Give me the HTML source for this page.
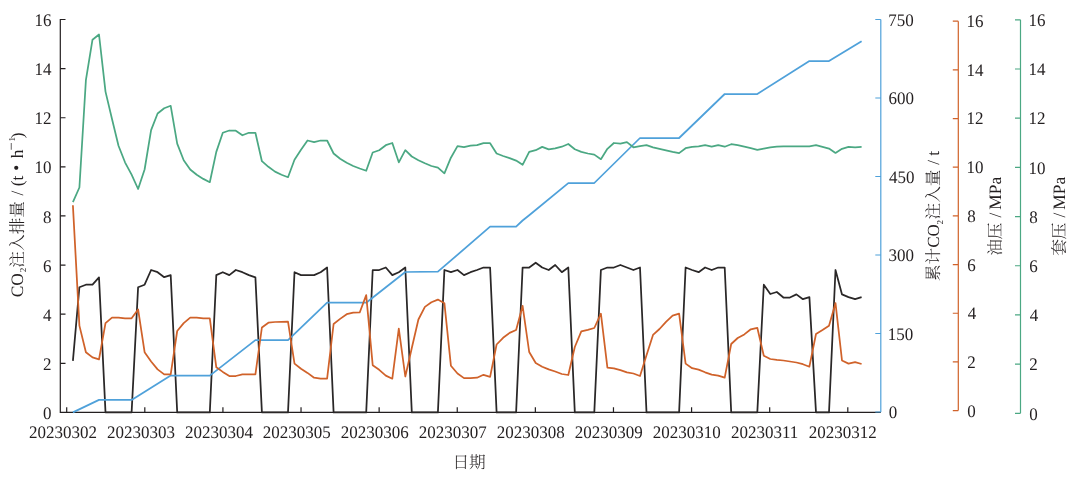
<!DOCTYPE html>
<html><head><meta charset="utf-8"><style>
html,body{margin:0;padding:0;background:#fff;width:1080px;height:482px;overflow:hidden}
svg{display:block;will-change:transform} text{text-rendering:geometricPrecision}
</style></head><body>
<svg width="1080" height="482" viewBox="0 0 1080 482">
<rect width="1080" height="482" fill="#fff"/>
<path d="M65.5,19.5 H60.3 V412.4 H880.8" fill="none" stroke="#231f20" stroke-width="1.2"/>
<path d="M60.3,363.29 h5.2 M60.3,314.17 h5.2 M60.3,265.06 h5.2 M60.3,215.95 h5.2 M60.3,166.84 h5.2 M60.3,117.73 h5.2 M60.3,68.61 h5.2" stroke="#231f20" stroke-width="1.2"/>
<path d="M66.70,412.4 v-5.2 M144.81,412.4 v-5.2 M222.92,412.4 v-5.2 M301.03,412.4 v-5.2 M379.14,412.4 v-5.2 M457.25,412.4 v-5.2 M535.36,412.4 v-5.2 M613.47,412.4 v-5.2 M691.58,412.4 v-5.2 M769.69,412.4 v-5.2 M847.80,412.4 v-5.2" stroke="#231f20" stroke-width="1.2"/>
<path d="M880.8,19.5 V412.0 M875.3,412.00 H880.8 M875.3,333.50 H880.8 M875.3,255.00 H880.8 M875.3,176.50 H880.8 M875.3,98.00 H880.8 M875.3,19.50 H880.8" fill="none" stroke="#4fa1da" stroke-width="1.2"/>
<path d="M958.3,21.2 V410.6 M952.8,410.60 H958.3 M952.8,361.93 H958.3 M952.8,313.25 H958.3 M952.8,264.58 H958.3 M952.8,215.90 H958.3 M952.8,167.22 H958.3 M952.8,118.55 H958.3 M952.8,69.88 H958.3 M952.8,21.20 H958.3" fill="none" stroke="#d0622a" stroke-width="1.2"/>
<path d="M1020.5,19.8 V413.3 M1015.0,413.30 H1020.5 M1015.0,364.11 H1020.5 M1015.0,314.93 H1020.5 M1015.0,265.74 H1020.5 M1015.0,216.55 H1020.5 M1015.0,167.36 H1020.5 M1015.0,118.18 H1020.5 M1015.0,68.99 H1020.5 M1015.0,19.80 H1020.5" fill="none" stroke="#4ba883" stroke-width="1.2"/>
<polyline points="72.9,360.9 79.4,287.2 85.9,284.7 92.5,284.7 99.0,277.4 105.5,412.4 112.0,412.4 118.5,412.4 125.0,412.4 131.6,412.4 138.1,287.2 144.6,284.7 151.1,270.0 157.6,272.2 164.2,277.2 170.7,275.1 177.2,412.4 183.7,412.4 190.2,412.4 196.7,412.4 203.3,412.4 209.8,412.4 216.3,275.1 222.8,272.2 229.3,275.1 235.8,270.0 242.4,272.2 248.9,275.1 255.4,277.4 261.9,412.4 268.4,412.4 275.0,412.4 281.5,412.4 288.0,412.4 294.5,272.2 301.0,275.1 307.5,275.1 314.1,275.1 320.6,272.2 327.1,267.5 333.6,412.4 340.1,412.4 346.7,412.4 353.2,412.4 359.7,412.4 366.2,412.4 372.7,270.0 379.2,270.0 385.8,267.5 392.3,275.1 398.8,272.2 405.3,267.5 411.8,412.4 418.4,412.4 424.9,412.4 431.4,412.4 437.9,412.4 444.4,270.0 450.9,272.2 457.5,270.0 464.0,275.1 470.5,272.2 477.0,270.0 483.5,267.5 490.1,267.5 496.6,412.4 503.1,412.4 509.6,412.4 516.1,412.4 522.6,267.5 529.2,267.5 535.7,262.7 542.2,267.5 548.7,270.0 555.2,265.0 561.8,272.2 568.3,267.5 574.8,412.4 581.3,412.4 587.8,412.4 594.3,412.4 600.9,270.0 607.4,267.5 613.9,267.5 620.4,265.0 626.9,267.5 633.4,270.0 640.0,267.5 646.5,412.4 653.0,412.4 659.5,412.4 666.0,412.4 672.6,412.4 679.1,412.4 685.6,267.5 692.1,270.0 698.6,272.2 705.1,267.5 711.7,270.0 718.2,267.5 724.7,267.5 731.2,412.4 737.7,412.4 744.3,412.4 750.8,412.4 757.3,412.4 763.8,284.7 770.3,294.0 776.8,292.0 783.4,297.5 789.9,297.5 796.4,294.4 802.9,299.2 809.4,297.1 816.0,412.4 822.5,412.4 829.0,412.4 835.5,270.0 842.0,294.4 848.5,297.1 855.1,299.2 861.6,297.1" fill="none" stroke="#2a2727" stroke-width="1.75" stroke-linejoin="round"/>
<polyline points="72.9,412.4 99.0,399.9 131.6,399.9 170.7,375.6 209.8,375.6 255.4,340.1 288.0,340.1 327.1,302.7 366.2,302.7 405.3,272.0 437.9,271.7 490.1,226.7 516.1,226.6 522.6,220.5 529.2,215.2 568.3,183.1 594.3,183.0 640.0,138.0 679.1,138.0 692.1,125.5 724.7,94.0 757.3,94.0 809.4,61.1 829.0,61.1 861.6,41.2" fill="none" stroke="#4fa1da" stroke-width="1.75" stroke-linejoin="round"/>
<polyline points="72.9,205.2 79.4,325.6 85.9,352.2 92.5,357.4 99.0,359.4 105.5,323.1 112.0,317.7 118.5,317.7 125.0,318.3 131.6,318.3 138.1,309.4 144.6,352.2 151.1,361.5 157.6,369.4 164.2,374.4 170.7,374.4 177.2,331.0 183.7,323.1 190.2,317.7 196.7,317.7 203.3,318.3 209.8,318.3 216.3,367.3 222.8,371.9 229.3,376.0 235.8,376.0 242.4,374.4 248.9,374.4 255.4,374.4 261.9,327.5 268.4,322.7 275.0,322.0 281.5,321.8 288.0,321.6 294.5,363.6 301.0,368.8 307.5,372.9 314.1,377.7 320.6,378.7 327.1,378.7 333.6,324.0 340.1,318.9 346.7,314.2 353.2,312.7 359.7,312.5 366.2,295.1 372.7,365.2 379.2,369.8 385.8,375.6 392.3,378.7 398.8,328.7 405.3,376.5 411.8,348.0 418.4,319.5 424.9,306.9 431.4,302.3 437.9,299.6 444.4,303.2 450.9,365.7 457.5,373.5 464.0,378.1 470.5,378.1 477.0,377.7 483.5,374.8 490.1,376.8 496.6,344.5 503.1,337.8 509.6,332.9 516.1,330.0 522.6,305.9 529.2,352.0 535.7,363.0 542.2,366.7 548.7,369.4 555.2,371.5 561.8,374.0 568.3,375.0 574.8,347.0 581.3,331.4 587.8,329.8 594.3,328.0 600.9,313.7 607.4,367.7 613.9,368.4 620.4,370.2 626.9,372.3 633.4,373.5 640.0,376.0 646.5,355.3 653.0,334.9 659.5,329.0 666.0,321.8 672.6,315.6 679.1,313.7 685.6,363.6 692.1,368.2 698.6,369.6 705.1,372.3 711.7,374.6 718.2,375.6 724.7,377.7 731.2,344.0 737.7,338.0 744.3,334.4 750.8,329.3 757.3,327.8 763.8,355.7 770.3,359.0 776.8,359.9 783.4,360.5 789.9,361.5 796.4,362.5 802.9,364.2 809.4,366.7 816.0,334.0 822.5,330.0 829.0,325.7 835.5,303.2 842.0,360.5 848.5,363.6 855.1,362.1 861.6,364.0" fill="none" stroke="#d0622a" stroke-width="1.75" stroke-linejoin="round"/>
<polyline points="72.9,202.2 79.4,187.5 85.9,80.2 92.5,39.7 99.0,34.5 105.5,91.6 112.0,119.0 118.5,145.7 125.0,162.3 131.6,174.7 138.1,189.0 144.6,169.5 151.1,130.1 157.6,113.5 164.2,108.3 170.7,105.8 177.2,143.6 183.7,160.2 190.2,169.5 196.7,174.7 203.3,178.9 209.8,182.2 216.3,151.9 222.8,132.8 229.3,130.5 235.8,130.7 242.4,135.3 248.9,132.8 255.4,132.8 261.9,161.2 268.4,166.8 275.0,171.6 281.5,174.7 288.0,177.2 294.5,159.8 301.0,149.8 307.5,140.5 314.1,142.1 320.6,140.5 327.1,140.5 333.6,153.5 340.1,158.7 346.7,162.7 353.2,166.0 359.7,168.5 366.2,170.8 372.7,152.5 379.2,150.2 385.8,145.2 392.3,143.0 398.8,162.3 405.3,150.2 411.8,156.5 418.4,160.2 424.9,163.3 431.4,166.0 437.9,167.7 444.4,173.3 450.9,157.7 457.5,146.1 464.0,147.1 470.5,145.7 477.0,145.2 483.5,143.2 490.1,143.2 496.6,153.5 503.1,156.0 509.6,158.1 516.1,160.6 522.6,164.8 529.2,151.9 535.7,150.2 542.2,146.9 548.7,149.4 555.2,148.4 561.8,146.7 568.3,144.0 574.8,149.2 581.3,151.9 587.8,153.5 594.3,154.6 600.9,159.2 607.4,148.8 613.9,143.0 620.4,143.6 626.9,142.1 633.4,147.3 640.0,146.1 646.5,145.2 653.0,147.3 659.5,148.8 666.0,150.4 672.6,151.9 679.1,153.1 685.6,148.2 692.1,146.9 698.6,146.3 705.1,145.2 711.7,146.7 718.2,145.2 724.7,146.7 731.2,144.2 737.7,145.2 744.3,146.7 750.8,148.2 757.3,149.8 763.8,148.6 770.3,147.3 776.8,146.7 783.4,146.3 789.9,146.3 796.4,146.3 802.9,146.3 809.4,146.3 816.0,145.2 822.5,146.9 829.0,148.6 835.5,152.9 842.0,148.8 848.5,146.9 855.1,147.3 861.6,146.9" fill="none" stroke="#4ba883" stroke-width="1.75" stroke-linejoin="round"/>
<g font-family="'Liberation Serif', 'Noto Serif CJK SC', serif" font-size="17.0" fill="#231f20">
<text transform="translate(51.60,419.00) scale(1,1.04)" text-anchor="end">0</text>
<text transform="translate(51.60,369.89) scale(1,1.04)" text-anchor="end">2</text>
<text transform="translate(51.60,320.77) scale(1,1.04)" text-anchor="end">4</text>
<text transform="translate(51.60,271.66) scale(1,1.04)" text-anchor="end">6</text>
<text transform="translate(51.60,222.55) scale(1,1.04)" text-anchor="end">8</text>
<text transform="translate(51.60,173.44) scale(1,1.04)" text-anchor="end">10</text>
<text transform="translate(51.60,124.33) scale(1,1.04)" text-anchor="end">12</text>
<text transform="translate(51.60,75.21) scale(1,1.04)" text-anchor="end">14</text>
<text transform="translate(51.60,26.10) scale(1,1.04)" text-anchor="end">16</text>
<text transform="translate(62.95,437.80) scale(1,1.04)" text-anchor="middle">20230302</text>
<text transform="translate(140.92,437.80) scale(1,1.04)" text-anchor="middle">20230303</text>
<text transform="translate(218.89,437.80) scale(1,1.04)" text-anchor="middle">20230304</text>
<text transform="translate(296.86,437.80) scale(1,1.04)" text-anchor="middle">20230305</text>
<text transform="translate(374.83,437.80) scale(1,1.04)" text-anchor="middle">20230306</text>
<text transform="translate(452.80,437.80) scale(1,1.04)" text-anchor="middle">20230307</text>
<text transform="translate(530.77,437.80) scale(1,1.04)" text-anchor="middle">20230308</text>
<text transform="translate(608.74,437.80) scale(1,1.04)" text-anchor="middle">20230309</text>
<text transform="translate(686.71,437.80) scale(1,1.04)" text-anchor="middle">20230310</text>
<text transform="translate(764.68,437.80) scale(1,1.04)" text-anchor="middle">20230311</text>
<text transform="translate(842.65,437.80) scale(1,1.04)" text-anchor="middle">20230312</text>
<text transform="translate(888.65,418.30) scale(1,1.04)">0</text>
<text transform="translate(887.80,339.80) scale(1,1.04)">150</text>
<text transform="translate(888.48,261.30) scale(1,1.04)">300</text>
<text transform="translate(888.96,182.80) scale(1,1.04)">450</text>
<text transform="translate(888.57,104.30) scale(1,1.04)">600</text>
<text transform="translate(888.18,25.80) scale(1,1.04)">750</text>
<text transform="translate(967.35,416.90) scale(1,1.04)">0</text>
<text transform="translate(967.25,368.16) scale(1,1.04)">2</text>
<text transform="translate(967.66,319.41) scale(1,1.04)">4</text>
<text transform="translate(967.27,270.67) scale(1,1.04)">6</text>
<text transform="translate(967.35,221.92) scale(1,1.04)">8</text>
<text transform="translate(966.50,173.18) scale(1,1.04)">10</text>
<text transform="translate(966.50,124.43) scale(1,1.04)">12</text>
<text transform="translate(966.50,75.69) scale(1,1.04)">14</text>
<text transform="translate(966.50,26.94) scale(1,1.04)">16</text>
<text transform="translate(1029.35,419.60) scale(1,1.04)">0</text>
<text transform="translate(1029.25,370.41) scale(1,1.04)">2</text>
<text transform="translate(1029.66,321.23) scale(1,1.04)">4</text>
<text transform="translate(1029.27,272.04) scale(1,1.04)">6</text>
<text transform="translate(1029.35,222.85) scale(1,1.04)">8</text>
<text transform="translate(1028.50,173.66) scale(1,1.04)">10</text>
<text transform="translate(1028.50,124.48) scale(1,1.04)">12</text>
<text transform="translate(1028.50,75.29) scale(1,1.04)">14</text>
<text transform="translate(1028.50,26.10) scale(1,1.04)">16</text>
</g>
<g font-family="'Liberation Serif', 'Noto Serif CJK SC', serif" font-weight="300" fill="#231f20">
<text x="452.4" y="468.25" font-size="16.7">日期</text>
<text transform="rotate(-90)"><tspan x="-297.31" y="22.90" font-size="17.4">CO</tspan><tspan x="-272.20" y="26.40" font-size="9">2</tspan><tspan x="-267.70" y="23.25" font-size="16.7">注入排量</tspan><tspan x="-199.95" y="22.90" font-size="17.4"> / </tspan><tspan x="-186.27" y="22.90" font-size="17.4">(t</tspan><tspan x="-170.85" y="22.40" font-size="17.4">•</tspan><tspan x="-158.27" y="22.90" font-size="17.4">h</tspan><tspan x="-150.62" y="15.60" font-size="14.5">−</tspan><tspan x="-141.59" y="15.00" font-size="9">1</tspan><tspan x="-138.16" y="22.90" font-size="17.4">)</tspan></text>
<text transform="rotate(-90)"><tspan x="-281.13" y="939.30" font-size="16.7">累计</tspan><tspan x="-247.80" y="939.30" font-size="17.0">CO</tspan><tspan x="-224.60" y="942.60" font-size="9">2</tspan><tspan x="-219.50" y="939.30" font-size="16.7">注入量</tspan><tspan x="-169.05" y="939.00" font-size="17.0"> / </tspan><tspan x="-155.87" y="939.20" font-size="17.4">t</tspan></text>
<text transform="rotate(-90)"><tspan x="-255.87" y="1000.65" font-size="16.7">油压</tspan><tspan x="-221.95" y="1000.65" font-size="17.4"> / </tspan><tspan x="-209.70" y="1000.65" font-size="17.4">MPa</tspan></text>
<text transform="rotate(-90)"><tspan x="-255.87" y="1064.65" font-size="16.7">套压</tspan><tspan x="-221.95" y="1064.65" font-size="17.4"> / </tspan><tspan x="-209.70" y="1064.65" font-size="17.4">MPa</tspan></text>
</g>
</svg>
</body></html>
